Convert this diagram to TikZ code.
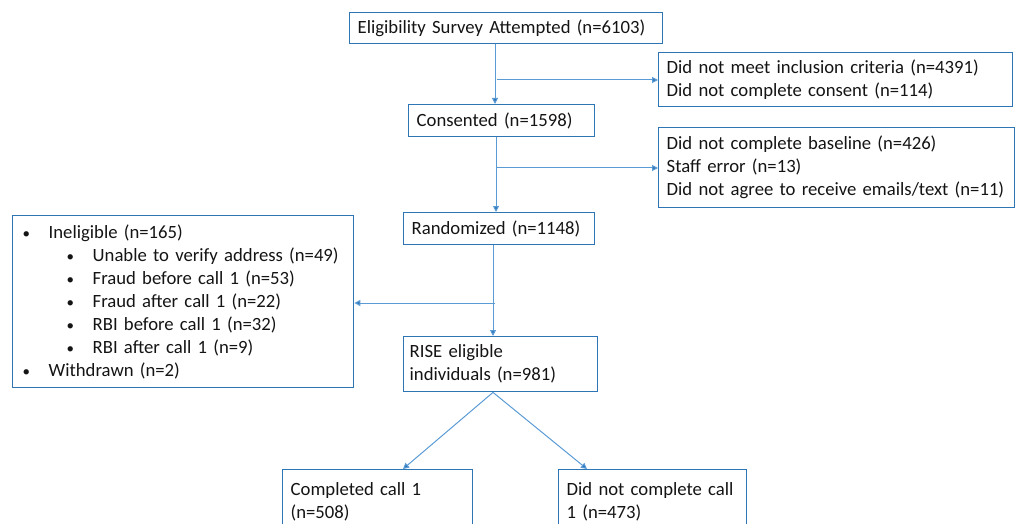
\documentclass[tikz,border=0pt]{standalone}
\usepackage{fontspec}
\setmainfont{Carlito}
\usetikzlibrary{arrows.meta}
\definecolor{boxblue}{RGB}{46,117,182}
\definecolor{linkblue}{RGB}{91,155,213}
\definecolor{txt}{RGB}{20,20,20}
\tikzset{
  box/.style={draw=boxblue, line width=1.4pt, anchor=north west, align=left,
    inner xsep=8pt, inner ysep=0pt, text=txt,
    font=\fontsize{18.7}{23}\selectfont},
  link/.style={draw=linkblue, line width=1pt},
  arr/.style={link, -{Triangle[length=6pt,width=6pt,fill=boxblue]}}
}
\newcommand{\bl}{\makebox[26pt][l]{\scalebox{0.8}{•}}}
\newcommand{\blb}{\hspace{44pt}\makebox[26pt][l]{\scalebox{0.8}{•}}}
\begin{document}
\begin{tikzpicture}[x=1pt,y=-1pt]
\useasboundingbox (0,0) rectangle (1015,524);
\clip (0,0) rectangle (1015,524);
\node[box, text width=297pt, minimum height=31pt] (elig) at (349,12) {Eligibility Survey Attempted (n=6103)};
\node[box, text width=338pt, minimum height=54pt] (ex1) at (658,52) {Did not meet inclusion criteria (n=4391)\\Did not complete consent (n=114)};
\node[box, text width=170pt, minimum height=32pt] (cons) at (408,104) {Consented (n=1598)};
\node[box, text width=340pt, minimum height=80pt] (ex2) at (658,127) {Did not complete baseline (n=426)\\Staff error (n=13)\\Did not agree to receive emails/text (n=11)};
\node[box, text width=175pt, minimum height=32pt] (rand) at (403,212) {Randomized (n=1148)};
\node[box, text width=321pt, minimum height=172pt, inner xsep=10pt] (inel) at (12,215) {\bl Ineligible (n=165)\\
\blb Unable to verify address (n=49)\\
\blb Fraud before call 1 (n=53)\\
\blb Fraud after call 1 (n=22)\\
\blb RBI before call 1 (n=32)\\
\blb RBI after call 1 (n=9)\\
\bl Withdrawn (n=2)};
\node[box, text width=182pt, minimum height=55pt, inner xsep=6pt] (rise) at (403,336) {RISE eligible\\individuals (n=981)};
\node[box, text width=174pt, minimum height=70pt] (comp) at (282,469) {Completed call 1\\(n=508)\\[-15pt]\mbox{}};
\node[box, text width=172pt, minimum height=70pt] (ncomp) at (558,469) {Did not complete call\\1 (n=473)\\[-15pt]\mbox{}};
\coordinate (v1) at (495,0);
\coordinate (v2) at (496,0);
\coordinate (v3) at (493,0);
\coordinate (h1) at (0,80);
\coordinate (h2) at (0,168);
\coordinate (h3) at (0,303);
\draw[arr] (elig.south -| v1) -- (cons.north -| v1);
\draw[arr] (v1 |- h1) ++(2,0) -- (ex1.west |- h1);
\draw[arr] (cons.south -| v2) -- (rand.north -| v2);
\draw[arr] (v2 |- h2) ++(1,0) -- (ex2.west |- h2);
\draw[arr] (rand.south -| v3) -- (rise.north -| v3);
\draw[arr] (v3 |- h3) ++(2,0) -- (inel.east |- h3);
\coordinate (fork) at (rise.south -| v3);
\draw[arr] (fork) -- (403,469);
\draw[arr] (fork) -- (587,469);
\end{tikzpicture}
\end{document}
